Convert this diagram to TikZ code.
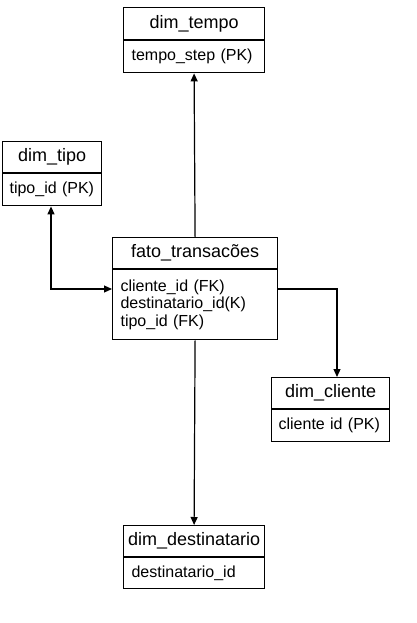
\documentclass[tikz,border=0pt]{standalone}
\usepackage{fontspec}
\setmainfont{Liberation Sans}
\usetikzlibrary{arrows.meta}
\tikzset{
  hdr/.style={draw, line width=1.2pt, anchor=north west, inner sep=0pt,
    minimum height=#1, font=\fontsize{18}{20}\selectfont},
  bdy/.style={draw, line width=1.2pt, anchor=north west, inner sep=0pt,
    font=\fontsize{16}{17.5}\selectfont},
  conn/.style={line width=1.2pt},
  tip/.style={-{Triangle[length=8pt,width=7pt]}},
}
\begin{document}
\begin{tikzpicture}[x=1pt,y=-1pt]
\useasboundingbox (0,0) rectangle (417,623);
% dim_tempo
\node[hdr=32pt, minimum width=141pt] (tempoH) at (123,7) {dim\_tempo};
\node[bdy, minimum width=141pt, minimum height=32pt, text width=125pt, align=left] (tempoB) at (tempoH.south west) {tempo\_step (PK)};
% dim_tipo
\node[hdr=31pt, minimum width=99pt] (tipoH) at (2,141) {dim\_tipo};
\node[bdy, minimum width=99pt, minimum height=32pt, text width=85pt, align=left] (tipoB) at (tipoH.south west) {\mbox{tipo\_id (PK)}};
% fato
\node[hdr=31pt, minimum width=165pt] (fatoH) at (112,237) {fato\_transacões};
\node[bdy, minimum width=165pt, minimum height=70pt, text width=149pt, align=left] (fatoB) at (fatoH.south west) {cliente\_id (FK)\\destinatario\_id(K)\\tipo\_id (FK)};
% dim_cliente
\node[hdr=31pt, minimum width=118pt] (cliH) at (271,377) {dim\_cliente};
\node[bdy, minimum width=118pt, minimum height=32pt, text width=104pt, align=left] (cliB) at (cliH.south west) {\mbox{cliente id (PK)}};
% dim_destinatario
\node[hdr=31pt, minimum width=141pt] (destH) at (123,525) {dim\_destinatario};
\node[bdy, minimum width=141pt, minimum height=31pt, text width=125pt, align=left] (destB) at (destH.south west) {destinatario\_id};
% connectors
\coordinate (tipoBend) at (51,289);
\coordinate (cliBend) at (337,289);
\draw[conn, tip] (fatoH.north) -- (tempoB.south);
\draw[conn, {Triangle[length=8pt,width=7pt]}-{Triangle[length=8pt,width=7pt]}] (tipoB.south west -| tipoBend) -- (tipoBend) -- (tipoBend -| fatoB.west);
\draw[conn, tip] (fatoB.east |- cliBend) -- (cliBend) -- (cliBend |- cliH.north);
\draw[conn, tip] (fatoB.south) -- (destH.north);
\end{tikzpicture}
\end{document}
